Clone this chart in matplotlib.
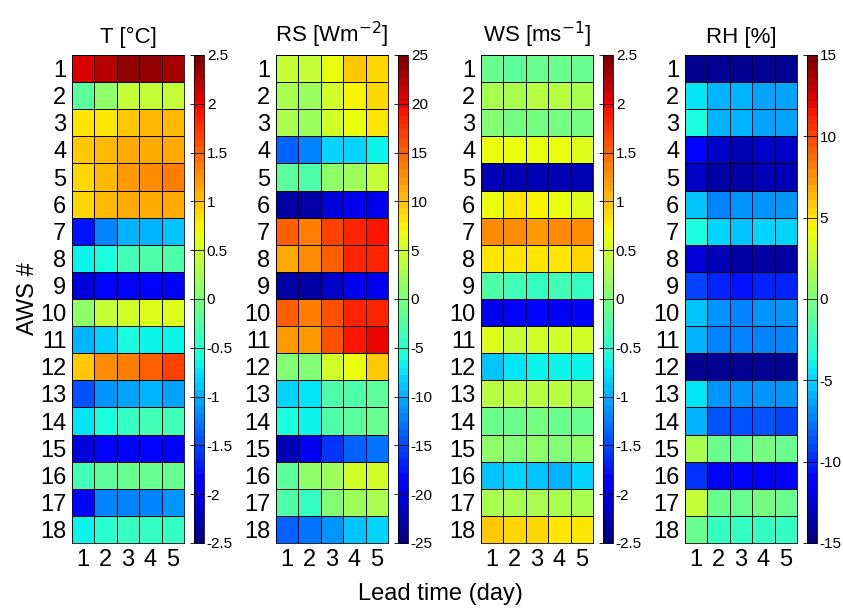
import numpy as np
import matplotlib
matplotlib.use("Agg")
import matplotlib.pyplot as plt

plt.rcParams['font.family'] = ['Liberation Sans', 'DejaVu Sans']

stations = list(range(1, 19))
lead_days = [1, 2, 3, 4, 5]

# bias of each AWS (rows) for lead time 1..5 (columns)
T_bias = [
    [2.05, 2.2, 2.4, 2.35, 2.3],
    [-0.2, 0.1, 0.4, 0.45, 0.45],
    [0.85, 0.85, 1.0, 1.05, 1.05],
    [0.95, 1.05, 1.15, 1.15, 1.15],
    [0.9, 1.05, 1.2, 1.3, 1.4],
    [0.9, 1.05, 1.1, 1.1, 1.1],
    [-1.75, -1.2, -1.0, -0.95, -0.9],
    [-0.7, -0.55, -0.35, -0.3, -0.3],
    [-2.05, -1.9, -1.85, -1.9, -1.9],
    [0.15, 0.45, 0.5, 0.6, 0.6],
    [-1.0, -0.8, -0.6, -0.65, -0.65],
    [0.95, 1.3, 1.4, 1.55, 1.65],
    [-1.45, -1.15, -1.05, -1.0, -1.05],
    [-0.75, -0.55, -0.4, -0.35, -0.35],
    [-2.1, -1.95, -1.85, -1.85, -1.9],
    [-0.35, -0.2, -0.1, -0.1, -0.15],
    [-1.8, -1.25, -1.2, -1.2, -1.15],
    [-0.65, -0.5, -0.45, -0.45, -0.45],
]
RS_bias = [
    [4, 4.5, 7, 9.5, 9],
    [3, 2, 5, 7.5, 9],
    [3, 2, 5, 7, 8],
    [-14, -12, -8.5, -8, -6.5],
    [-2, -3, 1, 2, 4],
    [-23, -23, -21, -20, -20],
    [15, 13.5, 17, 18, 19],
    [11, 13, 15.5, 18, 18.5],
    [-23, -23, -21.5, -20, -20],
    [15, 14, 16, 18, 18.5],
    [12, 12, 16, 19, 20],
    [0.5, 0.5, 5, 7, 9.5],
    [-8.5, -7.5, -3, -2.5, -2],
    [-6, -7, -3, -2, -1],
    [-22, -20, -16, -14, -13],
    [-2, 1, 2, 5, 5],
    [-2.5, -4, 0, 2, 3],
    [-14, -13, -11, -9, -8],
]
WS_bias = [
    [-0.1, -0.2, -0.1, -0.15, -0.15],
    [0.3, 0.3, 0.35, 0.35, 0.3],
    [0.05, -0.05, -0.05, -0.05, -0.05],
    [0.65, 0.65, 0.7, 0.7, 0.6],
    [-2.25, -2.25, -2.25, -2.25, -2.2],
    [0.65, 0.8, 0.75, 0.7, 0.6],
    [1.25, 1.25, 1.2, 1.25, 1.25],
    [0.8, 0.85, 0.85, 0.85, 0.9],
    [-0.3, -0.35, -0.4, -0.35, -0.45],
    [-2.0, -1.9, -1.85, -1.9, -1.9],
    [0.55, 0.45, 0.5, 0.5, 0.5],
    [-0.9, -0.75, -0.65, -0.7, -0.65],
    [0.35, 0.35, 0.35, 0.35, 0.3],
    [-0.1, -0.1, -0.05, -0.15, -0.1],
    [0.1, 0.05, 0.1, 0.05, 0.1],
    [-0.9, -0.85, -0.9, -0.95, -0.85],
    [0.3, 0.25, 0.25, 0.25, 0.25],
    [0.95, 0.9, 0.9, 0.85, 0.85],
]
RH_bias = [
    [-14.3, -14.5, -14.4, -14.5, -14.4],
    [-4.5, -5.7, -5.7, -6.2, -6.3],
    [-3.3, -6.0, -6.0, -6.5, -6.5],
    [-11.2, -13.0, -13.2, -13.0, -13.0],
    [-13.0, -13.8, -13.8, -13.5, -13.5],
    [-5.5, -7.2, -7.0, -7.0, -6.8],
    [-3.5, -5.0, -5.5, -5.0, -5.0],
    [-12.5, -13.5, -14.0, -14.0, -14.0],
    [-9.0, -10.0, -10.5, -10.0, -10.0],
    [-5.5, -7.0, -7.2, -7.0, -7.0],
    [-6.0, -7.5, -7.5, -7.5, -7.5],
    [-14.3, -14.4, -14.5, -14.5, -14.5],
    [-4.5, -6.8, -6.8, -7.0, -7.0],
    [-6.0, -8.5, -8.5, -8.5, -9.0],
    [1.5, -0.5, -0.5, -0.3, -0.6],
    [-9.5, -11.0, -11.0, -11.5, -11.0],
    [2.5, -0.5, -0.5, -0.3, -0.8],
    [-0.5, -2.4, -2.8, -2.8, -2.8],
]

titles = ["T [°C]", "RS [Wm$^{-2}$]", "WS [ms$^{-1}$]", "RH [%]"]
limits = [2.5, 25, 2.5, 15]
steps = [0.5, 5, 0.5, 5]
panels = [T_bias, RS_bias, WS_bias, RH_bias]

W, H = 843, 608
fig = plt.figure(figsize=(W / 100, H / 100), dpi=100)
cmap = plt.get_cmap('jet', 64)

lefts = [72, 276, 481, 685]
top, bottom = 55, 543
hw, cw, gap = 112, 10, 10

for i, data in enumerate(panels):
    x0 = lefts[i]
    ax = fig.add_axes([x0 / W, 1 - bottom / H, hw / W, (bottom - top) / H])
    cax = fig.add_axes([(x0 + hw + gap) / W, 1 - bottom / H, cw / W, (bottom - top) / H])
    a = limits[i]
    xe = np.arange(len(lead_days) + 1) + 0.5
    ye = np.arange(len(stations) + 1) + 0.5
    m = ax.pcolormesh(xe, ye, np.array(data), cmap=cmap, vmin=-a, vmax=a,
                      edgecolors='k', linewidth=0.6)
    ax.set_ylim(len(stations) + 0.5, 0.5)
    ax.set_xticks(lead_days)
    ax.set_yticks(stations)
    ax.tick_params(length=0, labelsize=17, pad=4)
    for s in ax.spines.values():
        s.set_linewidth(0.6)
    ax.set_title(titles[i], fontsize=16, pad=9)
    cb = fig.colorbar(m, cax=cax)
    ticks = np.arange(-a, a + steps[i] / 2, steps[i])
    cb.set_ticks(ticks)
    cb.set_ticklabels(["%g" % t for t in ticks])
    cb.ax.tick_params(labelsize=11, direction='in', length=cw, width=0.6, pad=2)
    cb.outline.set_linewidth(0.6)

fig.text(28 / W, 1 - 299 / H, "AWS #", rotation=90, fontsize=17, ha='center', va='center')
fig.text(440 / W, 1 - 594 / H, "Lead time (day)", fontsize=17, ha='center', va='center')

fig.savefig("out.png", dpi=100)
